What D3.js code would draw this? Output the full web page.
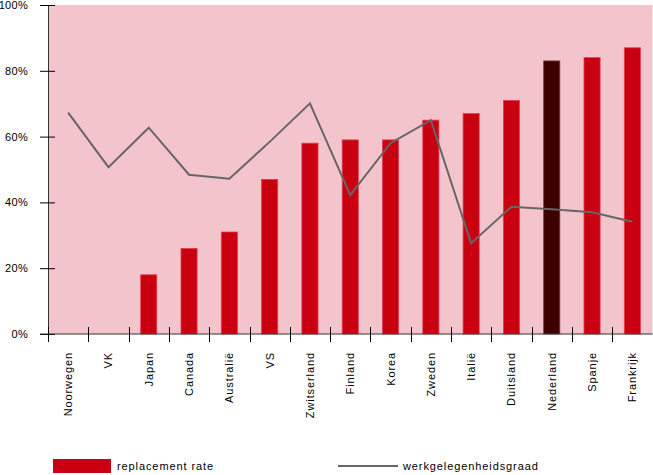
<!DOCTYPE html>
<html>
<head>
<meta charset="utf-8">
<script src="https://cdn.jsdelivr.net/npm/d3@7"></script>
<style>
  body { margin: 0; background: #fff; }
  svg text { font-family: "Liberation Sans", Arial, sans-serif; font-size: 11px; fill: #000; }
</style>
</head>
<body>
<div id="container"></div>
<script>
// landen
const countries = ["Noorwegen", "VK", "Japan", "Canada", "Australië", "VS", "Zwitserland", "Finland",
  "Korea", "Zweden", "Italië", "Duitsland", "Nederland", "Spanje", "Frankrijk"];
// replacement rate (%), null = geen balk
const replacementRate = [null, null, 18, 26, 31, 47, 58, 59, 59, 65, 67, 71, 83, 84, 87];
// werkgelegenheidsgraad (%)
const employment = [67.3, 50.7, 62.7, 48.4, 47.2, 58.4, 70.1, 42.2, 58.0, 65.0, 27.6, 38.7, 37.9, 37.0, 34.1];
const yTicks = [0, 20, 40, 60, 80, 100];
const highlight = "Nederland";

const width = 653;
const height = 475;
const marginTop = 5;
const marginLeft = 48;
const marginRight = 0.5;
const plotBottom = 334;
const spacing = "0.9px";

const svg = d3.create("svg")
  .attr("width", width)
  .attr("height", height);

const x = d3.scaleBand()
  .domain(countries)
  .range([marginLeft, width - marginRight])
  .paddingInner(0)
  .paddingOuter(0);

const y = d3.scaleLinear()
  .domain([0, 100])
  .range([plotBottom, marginTop]);

// achtergrond plot
svg.append("rect")
  .attr("x", marginLeft)
  .attr("y", marginTop)
  .attr("width", width - marginRight - marginLeft)
  .attr("height", plotBottom - marginTop)
  .attr("fill", "#f4c4cd");

// balken
const barW = x.bandwidth() * 0.4;
svg.append("g")
  .selectAll("rect")
  .data(countries.map((c, i) => ({ c, v: replacementRate[i] })).filter(d => d.v != null))
  .join("rect")
  .attr("x", d => x(d.c) + (x.bandwidth() - barW) / 2)
  .attr("y", d => y(d.v))
  .attr("width", barW)
  .attr("height", d => y(0) - y(d.v))
  .attr("fill", d => d.c === highlight ? "#3c0000" : "#c8000f")
  .attr("stroke", d => d.c === highlight ? "#7a3a3a" : "#e0404f")
  .attr("stroke-width", 0.8);

// lijn
const line = d3.line()
  .x((d, i) => x(countries[i]) + x.bandwidth() / 2)
  .y(d => y(d));

svg.append("path")
  .datum(employment)
  .attr("d", line)
  .attr("fill", "none")
  .attr("stroke", "#666666")
  .attr("stroke-width", 2)
  .attr("stroke-linejoin", "miter");

// y-as
const yAxis = svg.append("g")
  .attr("transform", `translate(${marginLeft},0)`)
  .call(d3.axisLeft(y)
    .tickValues(yTicks)
    .tickSizeInner(8)
    .tickSizeOuter(0)
    .tickPadding(12)
    .tickFormat(d => d + "%"));
yAxis.select(".domain").attr("stroke", "#333");
yAxis.selectAll(".tick line").attr("stroke", "#000").attr("x2", 7).attr("x1", -8);
yAxis.selectAll(".tick text").attr("font-size", 11).attr("font-family", null).attr("letter-spacing", "0.3px");

// x-as
const xAxis = svg.append("g")
  .attr("transform", `translate(0,${plotBottom})`)
  .call(d3.axisBottom(x).tickSize(0).tickSizeOuter(0).tickFormat(""));
xAxis.select(".domain").remove();
xAxis.append("line")
  .attr("x1", 40)
  .attr("x2", width - marginRight)
  .attr("stroke", "#333");

// scheidingsstreepjes tussen de categorieën
xAxis.append("g")
  .selectAll("line")
  .data(countries)
  .join("line")
  .attr("x1", d => Math.round(x(d)) + 0.5)
  .attr("x2", d => Math.round(x(d)) + 0.5)
  .attr("y1", -7)
  .attr("y2", 8)
  .attr("stroke", "#000");

xAxis.append("g")
  .selectAll("text")
  .data(countries)
  .join("text")
  .attr("transform", d => `translate(${x(d) + x.bandwidth() / 2 + 4},18) rotate(-90)`)
  .attr("text-anchor", "end")
  .attr("letter-spacing", spacing)
  .text(d => d);

// legenda
const legend = svg.append("g");
legend.append("rect")
  .attr("x", 53).attr("y", 459)
  .attr("width", 58).attr("height", 14)
  .attr("fill", "#c8000f");
legend.append("text")
  .attr("x", 117).attr("y", 470)
  .attr("letter-spacing", spacing)
  .text("replacement rate");
legend.append("line")
  .attr("x1", 338).attr("x2", 398)
  .attr("y1", 466).attr("y2", 466)
  .attr("stroke", "#666666").attr("stroke-width", 2);
legend.append("text")
  .attr("x", 403).attr("y", 470)
  .attr("letter-spacing", spacing)
  .text("werkgelegenheidsgraad");

document.getElementById("container").append(svg.node());
</script>
</body>
</html>
